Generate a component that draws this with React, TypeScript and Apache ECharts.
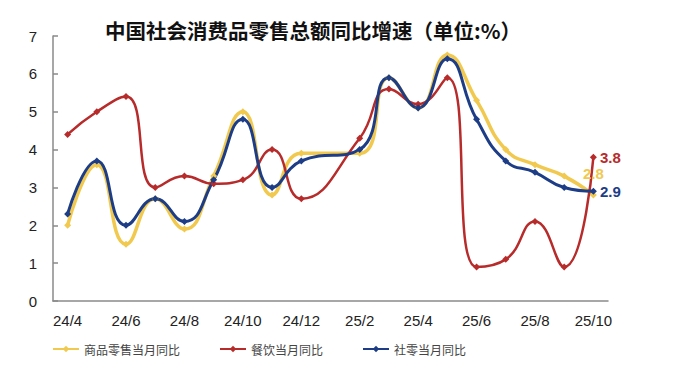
import React, { useEffect, useRef } from "react";
import * as echarts from "echarts";

const categories = [
  "24/4", "24/5", "24/6", "24/7", "24/8", "24/9", "24/10", "24/11", "24/12",
  "25/1", "25/2", "25/3", "25/4", "25/5", "25/6", "25/7", "25/8", "25/9", "25/10",
];
const goodsRetail = [2.0, 3.6, 1.5, 2.7, 1.9, 3.3, 5.0, 2.8, 3.9, null, 3.9, 5.9, 5.1, 6.5, 5.3, 4.0, 3.6, 3.3, 2.8];
const catering = [4.4, 5.0, 5.4, 3.0, 3.3, 3.1, 3.2, 4.0, 2.7, null, 4.3, 5.6, 5.2, 5.9, 0.9, 1.1, 2.1, 0.9, 3.8];
const totalRetail = [2.3, 3.7, 2.0, 2.7, 2.1, 3.2, 4.8, 3.0, 3.7, null, 4.0, 5.9, 5.1, 6.4, 4.8, 3.7, 3.4, 3.0, 2.9];
const seriesNames = ["商品零售当月同比", "餐饮当月同比", "社零当月同比"];
const titleText = "中国社会消费品零售总额同比增速（单位:%）";

const YELLOW = "#F1C94F";
const RED = "#B72B2B";
const BLUE = "#1D3D86";

function withEndLabel(values: (number | null)[], color: string, position: string, distance: number) {
  return values.map((v, i) =>
    i === values.length - 1
      ? {
          value: v,
          label: {
            show: true,
            position,
            distance,
            color,
            fontSize: 15,
            fontWeight: "bold",
            fontFamily: "Liberation Sans, Arial, sans-serif",
            formatter: "{c}",
          },
        }
      : v
  );
}

export default function App() {
  const ref = useRef<HTMLDivElement>(null);
  useEffect(() => {
    if (!ref.current) return;
    const chart = echarts.init(ref.current, null, { renderer: "svg" });
    const mkSeries = (name: string, data: any[], color: string, width: number) => ({
      name,
      type: "line",
      data,
      smooth: 0.5,
      connectNulls: true,
      symbol: "diamond",
      symbolSize: 7,
      itemStyle: { color },
      lineStyle: { color, width },
      emphasis: { disabled: true },
    });
    chart.setOption({
      animation: false,
      title: {
        text: titleText,
        left: 105,
        top: 20,
        padding: 0,
        textStyle: {
          fontSize: 20.5,
          fontWeight: "bold",
          color: "#111",
          fontFamily: "Noto Sans CJK SC, sans-serif",
        },
      },
      legend: {
        left: 52,
        top: 343,
        padding: 0,
        itemWidth: 26,
        itemHeight: 8,
        itemGap: 39,
        textStyle: { fontSize: 12, color: "#444", fontFamily: "Noto Sans CJK SC, sans-serif" },
        data: seriesNames,
      },
      grid: { left: 53, right: 92, top: 36, bottom: 67, containLabel: false },
      xAxis: {
        type: "category",
        data: categories,
        boundaryGap: true,
        axisLine: { lineStyle: { color: "#8a8a8a", width: 1.5 } },
        axisTick: { inside: true, length: 5, interval: 1, lineStyle: { color: "#8a8a8a", width: 1.5 } },
        axisLabel: {
          interval: 1,
          fontSize: 15,
          color: "#222",
          margin: 12,
          fontFamily: "Liberation Sans, Arial, sans-serif",
        },
      },
      yAxis: {
        type: "value",
        min: 0,
        max: 7,
        interval: 1,
        axisLine: { show: true, lineStyle: { color: "#8a8a8a", width: 1.5 } },
        axisTick: { show: true, inside: true, length: 5, lineStyle: { color: "#8a8a8a", width: 1.5 } },
        axisLabel: {
          fontSize: 15,
          color: "#222",
          margin: 16,
          fontFamily: "Liberation Sans, Arial, sans-serif",
        },
        splitLine: { show: false },
      },
      series: [
        mkSeries(seriesNames[0], withEndLabel(goodsRetail, YELLOW, "top", 11), YELLOW, 3.5),
        mkSeries(seriesNames[1], withEndLabel(catering, RED, "right", 3), RED, 2.5),
        mkSeries(seriesNames[2], withEndLabel(totalRetail, BLUE, "right", 3), BLUE, 3),
      ],
    });
    return () => chart.dispose();
  }, []);
  return (
    <div
      ref={ref}
      style={{ position: "fixed", left: 0, top: 0, width: 700, height: 368, background: "#fff" }}
    />
  );
}
